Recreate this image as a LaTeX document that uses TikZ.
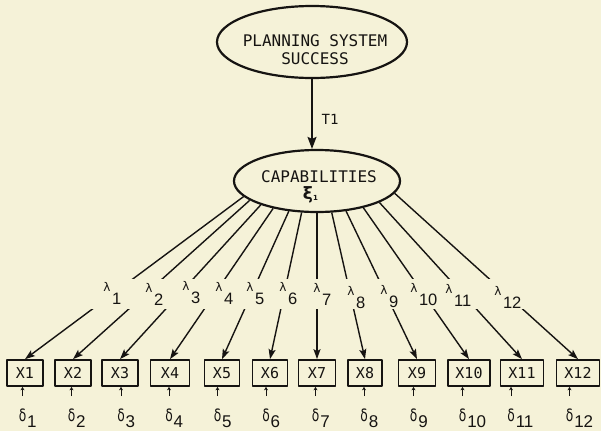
\documentclass[tikz,border=0pt]{standalone}
\usepackage{fontspec}
\setmainfont{DejaVu Sans Mono}
\newfontfamily\greekfont{DejaVu Sans}
\newfontfamily\digfont{Liberation Sans}
\usetikzlibrary{shapes.geometric,arrows.meta}
\definecolor{paper}{RGB}{245,242,216}
\definecolor{ink}{RGB}{22,20,18}
\begin{document}
\begin{tikzpicture}[x=1pt,y=-1pt,line join=round,
  ell/.style={draw=ink,ellipse,line width=2.2pt,inner sep=0pt},
  obs/.style={draw=ink,rectangle,line width=1.7pt,minimum height=26pt,inner sep=0pt,
    text=ink,font=\fontsize{15}{15}\selectfont},
  load/.style={draw=ink,line width=1.4pt,-{Stealth[length=10pt,width=7pt,inset=2pt]}},
  topload/.style={draw=ink,line width=1.6pt,-{Stealth[length=12pt,width=9pt,inset=2pt]}},
  lamlab/.style={inner sep=0pt,anchor=base,text=ink,font=\greekfont\fontsize{12}{12}\selectfont},
  dellab/.style={inner sep=0pt,anchor=base,text=ink,font=\greekfont\fontsize{17}{17}\selectfont},
  err/.style={draw=ink,line width=0.9pt,-{Stealth[length=3.5pt,width=4pt]}},
  txt/.style={inner sep=0pt,text=ink}
]
\fill[paper] (0,0) rectangle (601,431);
\useasboundingbox (0,0) rectangle (601,431);

% latent variables
\node[ell,minimum width=190pt,minimum height=72pt] (pss) at (312,42) {};
\node[txt,font=\fontsize{16}{18}\selectfont,align=center] (psst) at (315,50) {PLANNING SYSTEM\\SUCCESS};
\node[ell,minimum width=166pt,minimum height=62pt] (cap) at (317,181) {};
\node[txt,font=\fontsize{16}{16}\selectfont] (capt) at (319,177) {CAPABILITIES};
\node[txt,font=\greekfont\bfseries\fontsize{17}{17}\selectfont] (xi) at (308,195)
  {ξ\rlap{\raisebox{-1pt}{\fontsize{7}{7}\selectfont 1}}};

\draw[topload] (pss.south) -- (pss.south |- cap.north);
\node[txt,font=\fontsize{14}{14}\selectfont] (t1) at (330,119) {T1};

% observed indicators
\foreach \i/\x/\w in {1/25/36,2/73/36,3/120/36,4/170/39,5/222/35,6/270/35,
                      7/317/37,8/365/34,9/417/37,10/469/42,11/522/43,12/578/43}
  \node[obs,minimum width=\w pt] (x\i) at (\x,373) {X\i};

% loadings
\foreach \i/\a in {1/192,2/196,3/203,4/212,5/227,6/244,7/270,8/295,9/314,10/330,11/341,12/351}
  \draw[load] (cap.\a) -- (x\i.north);

% gap for the loading labels
\fill[paper] (0,279) rectangle (601,309);

\foreach \i/\x/\y in {1/107/291,2/149/292,3/186/290,4/219/291,5/250/291,6/283/291,
                      7/317/292,8/351/295,9/384/294,10/414/292,11/449/293,12/498/295}
  \node[lamlab] (l\i) at (\x,\y)
    {λ\rlap{\hspace{1.5pt}\raisebox{-13.5pt}{\digfont\fontsize{16.5}{16.5}\selectfont\i}}};

% measurement errors
\foreach \i/\x in {1/22.5,2/71.5,3/121,4/169,5/217.5,6/266,7/315.5,8/364,9/413.5,10/462.5,11/511,12/569.5}{
  \node[dellab] (d\i) at (\x,421)
    {\scalebox{0.72}[1]{δ}\rlap{\hspace{1pt}\raisebox{-6.5pt}{\digfont\fontsize{17}{17}\selectfont\i}}};
  \draw[err] ([yshift=12pt]d\i.north) -- (d\i.north |- x\i.south);
}
\end{tikzpicture}
\end{document}
